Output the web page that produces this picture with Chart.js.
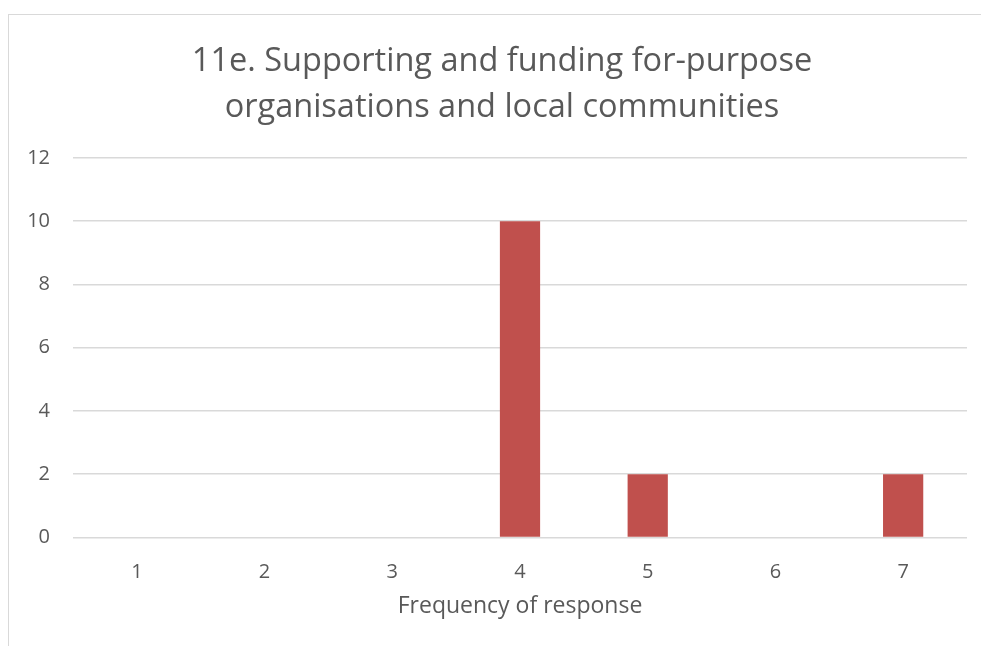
<!DOCTYPE html>
<html>
<head>
<meta charset="utf-8">
<script src="https://cdn.jsdelivr.net/npm/chart.js@4/dist/chart.umd.min.js"></script>
<style>
  html, body { margin: 0; padding: 0; background: #fff; overflow: hidden; }
  #wrap { position: relative; width: 981px; height: 646px; }
  #frame { position: absolute; left: 8px; top: 14px; width: 1000px; height: 700px; border-top: 1px solid #d9d9d9; border-left: 1px solid #d9d9d9; }
  #chart { position: absolute; left: 0; top: 0; }
</style>
</head>
<body>
<div id="wrap">
  <div id="frame"></div>
  <canvas id="chart" width="981" height="646"></canvas>
</div>
<script>
// chart data
var categories = ["1", "2", "3", "4", "5", "6", "7"];
var counts = [0, 0, 0, 10, 2, 0, 2];
var titleLines = ["11e. Supporting and funding for-purpose", "organisations and local communities"];
var xTitle = "Frequency of response";

var textColour = "#595959";
var gridColour = "#d9d9d9";
var fontName = "'Open Sans', sans-serif";

// the original title is centred on the whole frame, not the plot, so nudge it right
var titleShift = {
    id: "titleShift",
    afterLayout: function (chart) {
        if (chart.titleBlock) { chart.titleBlock.left += 31; }
    }
};

var chart = new Chart(document.getElementById("chart"), {
    type: "bar",
    data: {
        labels: categories,
        datasets: [{
            data: counts,
            backgroundColor: "#c0504d",
            borderWidth: 0,
            categoryPercentage: 1,
            barPercentage: 0.315
        }]
    },
    options: {
        responsive: false,
        animation: false,
        layout: { padding: { left: 6, right: 14, top: 39, bottom: 26 } },
        plugins: {
            legend: { display: false },
            tooltip: { enabled: false },
            title: {
                display: true,
                text: titleLines,
                color: textColour,
                font: { family: fontName, size: 32.5, weight: "normal", lineHeight: 1.4 },
                padding: { top: 0, bottom: 28 }
            }
        },
        scales: {
            x: {
                grid: { display: false, drawTicks: false },
                border: { display: false },
                ticks: { color: textColour, font: { family: fontName, size: 20, lineHeight: 1.2 }, padding: 23 },
                title: {
                    display: true,
                    text: xTitle,
                    color: textColour,
                    font: { family: fontName, size: 23, lineHeight: 1.2 },
                    padding: { top: -15, bottom: 0 }
                }
            },
            y: {
                min: 0,
                max: 12,
                ticks: { stepSize: 2, color: textColour, font: { family: fontName, size: 20 }, padding: 23 },
                grid: { color: gridColour, lineWidth: 1.5, drawTicks: false },
                border: { display: false },
                afterFit: function (scale) { scale.width = 67; }
            }
        }
    },
    plugins: [titleShift]
});
</script>
</body>
</html>
